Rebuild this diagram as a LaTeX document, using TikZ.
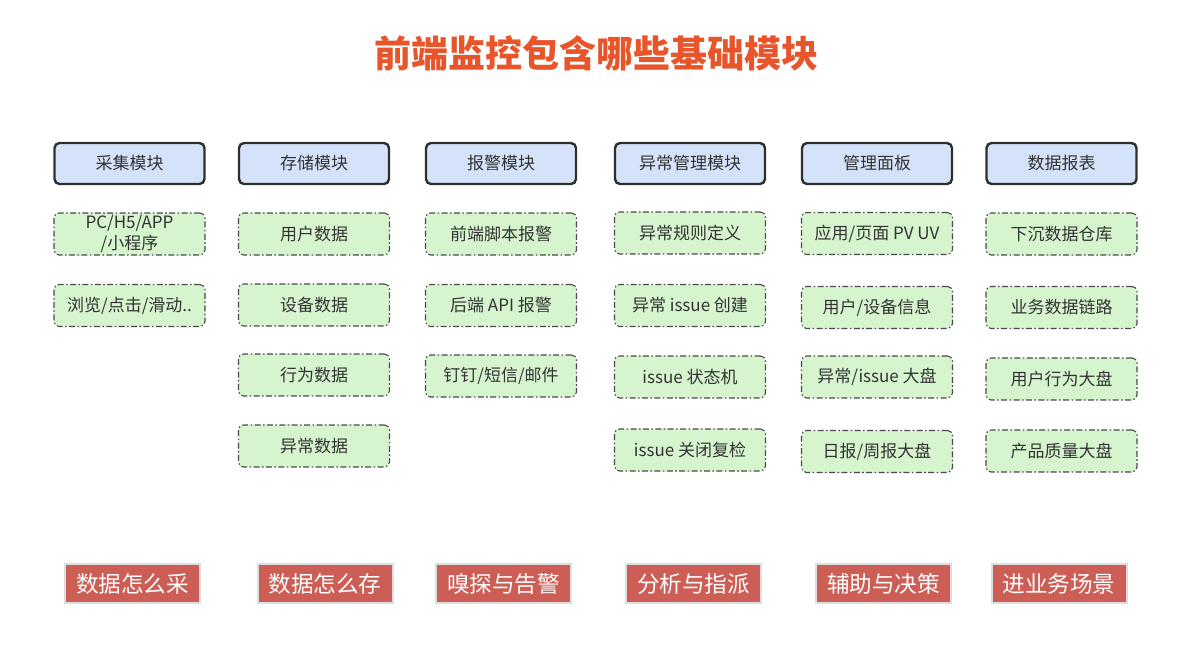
\documentclass[tikz,border=0pt]{standalone}
\usepackage{fontspec}
\setmainfont{Noto Sans CJK SC}
\definecolor{hdrfill}{HTML}{D5E3FA}
\definecolor{hdrdraw}{HTML}{2E2E2E}
\definecolor{grnfill}{HTML}{D6F5CF}
\definecolor{grndraw}{HTML}{4A4A4A}
\definecolor{redfill}{HTML}{CD5E56}
\definecolor{reddraw}{HTML}{DCDEE0}
\definecolor{titlecol}{HTML}{E8552B}
\definecolor{txt}{HTML}{333333}
\tikzset{
  hdrbox/.style={draw=hdrdraw, line width=1.2pt, fill=hdrfill, rounded corners=2.5pt,
    minimum width=75pt, minimum height=20.5pt, inner sep=0pt, text=txt, font=\fontsize{8.5pt}{10pt}\selectfont},
  grnbox/.style={draw=grndraw, line width=0.55pt, fill=grnfill, rounded corners=2.5pt,
    dash pattern=on 3pt off 1.2pt on 0.8pt off 1.2pt,
    minimum width=75.5pt, minimum height=21pt, inner sep=0pt, text=txt, align=center,
    font=\fontsize{8.5pt}{10.5pt}\selectfont},
  redbox/.style={draw=reddraw, line width=1pt, fill=redfill, minimum width=67.5pt,
    minimum height=19.5pt, inner sep=0pt, text=white, font=\fontsize{11.3pt}{13pt}\selectfont},
}
\begin{document}
\begin{tikzpicture}[x=0.5pt,y=-0.5pt]
\useasboundingbox (0,0) rectangle (1192,671);
\node[text=titlecol, font=\fontsize{18.5pt}{22pt}\selectfont\bfseries] (title) at (596,53) {前端监控包含哪些基础模块};
% headers
\node[hdrbox] (h1) at (129.5,163.5) {采集模块};
\node[hdrbox] (h2) at (314,163.5) {存储模块};
\node[hdrbox] (h3) at (501,163.5) {报警模块};
\node[hdrbox] (h4) at (690,163.5) {异常管理模块};
\node[hdrbox] (h5) at (877,163.5) {管理面板};
\node[hdrbox] (h6) at (1061.5,163.5) {数据报表};
% column 1
\node[grnbox] (g11) at (129.5,234) {PC/H5/APP\\/小程序};
\node[grnbox] (g12) at (129.5,305.5) {浏览/点击/滑动..};
% column 2
\node[grnbox] (g21) at (314,234) {用户数据};
\node[grnbox] (g22) at (314,305) {设备数据};
\node[grnbox] (g23) at (314,375) {行为数据};
\node[grnbox] (g24) at (314,446) {异常数据};
% column 3
\node[grnbox] (g31) at (501,234) {前端脚本报警};
\node[grnbox] (g32) at (501,305.5) {后端 API 报警};
\node[grnbox] (g33) at (501,376) {钉钉/短信/邮件};
% column 4
\node[grnbox] (g41) at (690,233) {异常规则定义};
\node[grnbox] (g42) at (690,305.5) {异常 issue 创建};
\node[grnbox] (g43) at (690,377) {issue 状态机};
\node[grnbox] (g44) at (690,450) {issue 关闭复检};
% column 5
\node[grnbox] (g51) at (877,233.5) {应用/页面 PV UV};
\node[grnbox] (g52) at (877,307.5) {用户/设备信息};
\node[grnbox] (g53) at (877,377) {异常/issue 大盘};
\node[grnbox] (g54) at (877,451.5) {日报/周报大盘};
% column 6
\node[grnbox] (g61) at (1061.5,234) {下沉数据仓库};
\node[grnbox] (g62) at (1061.5,307.5) {业务数据链路};
\node[grnbox] (g63) at (1061.5,379) {用户行为大盘};
\node[grnbox] (g64) at (1061.5,451) {产品质量大盘};
% bottom labels
\node[redbox] (r1) at (132.5,583.5) {数据怎么采};
\node[redbox] (r2) at (325,583.5) {数据怎么存};
\node[redbox] (r3) at (503.5,583.5) {嗅探与告警};
\node[redbox] (r4) at (693.5,583.5) {分析与指派};
\node[redbox] (r5) at (883.5,583.5) {辅助与决策};
\node[redbox] (r6) at (1059,583.5) {进业务场景};
\end{tikzpicture}
\end{document}
